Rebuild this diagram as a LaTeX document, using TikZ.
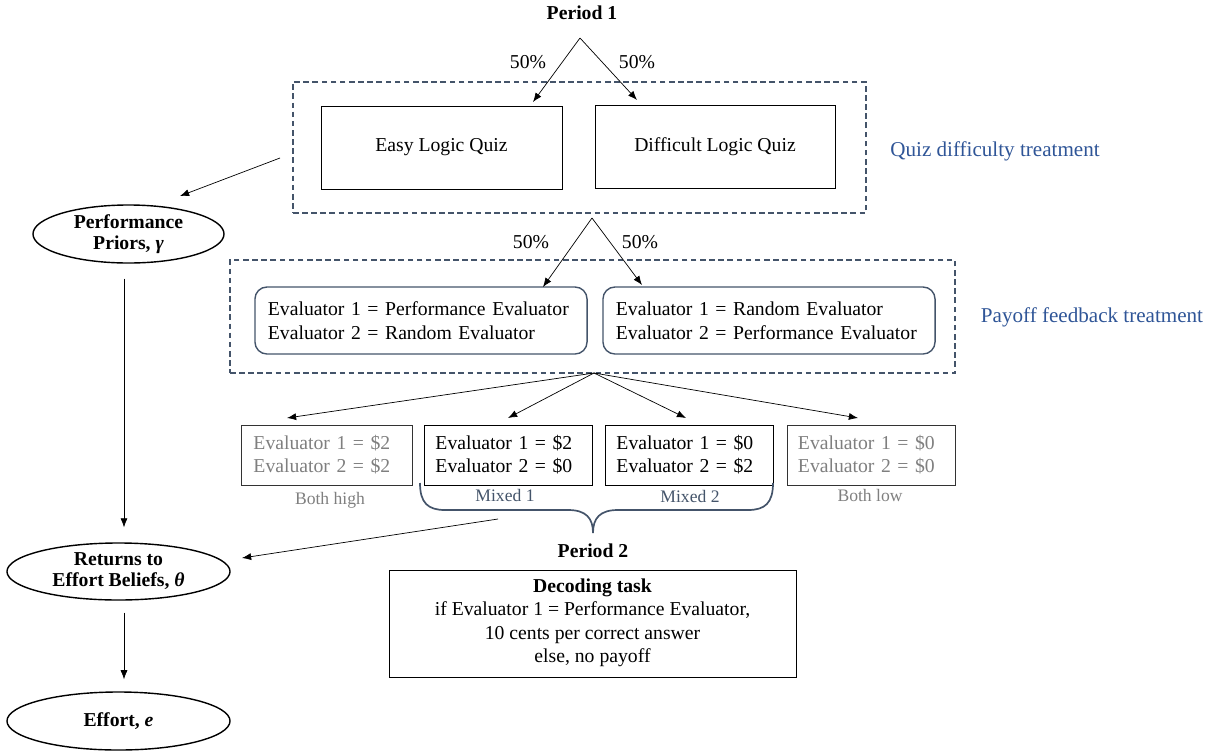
\documentclass[tikz,border=0pt]{standalone}
\usepackage{fontspec}
\setmainfont{Liberation Serif}
\usetikzlibrary{shapes.geometric,positioning,arrows.meta}
\definecolor{navy}{RGB}{68,84,106}
\definecolor{treatblue}{RGB}{47,85,151}
\definecolor{greytext}{RGB}{127,127,127}
\tikzset{
	arr/.style={line width=0.5pt,-{Latex[length=6.5pt,width=5pt]}},
	dashbox/.style={draw=navy,line width=0.9pt,dash pattern=on 4pt off 2.5pt},
	quizbox/.style={draw,line width=0.6pt,minimum width=6.025cm,minimum height=2.075cm,font=\fontsize{14}{16.5}\selectfont},
	evalbox/.style={draw=navy,line width=1pt,rounded corners=0.3cm,minimum width=8.3cm,minimum height=1.675cm,text width=7.65cm,inner xsep=0.325cm,align=left,font=\fontsize{14}{17}\selectfont},
	paybox/.style={draw,line width=0.6pt,minimum width=4.2cm,minimum height=1.5cm,text width=3.65cm,inner xsep=0.275cm,align=left,font=\fontsize{14}{16.5}\selectfont},
	greybox/.style={paybox,draw=black!80,text=greytext},
	sublabel/.style={font=\fontsize{12.5}{14}\selectfont},
	treatlabel/.style={text=treatblue,font=\fontsize{15}{17}\selectfont},
	pct/.style={font=\fontsize{14}{16}\selectfont},
	periodlabel/.style={font=\fontsize{14}{16}\selectfont\bfseries},
	belief/.style={ellipse,draw,line width=1pt,align=center,inner sep=0pt,font=\fontsize{14}{15}\selectfont\bfseries}
}
\begin{document}
\begin{tikzpicture}[x=0.025cm,y=-0.025cm]
	\useasboundingbox (0,0) rectangle (1215,751);

	%%Period 1 und Quiz
	\node[periodlabel] (period1) at (582,13) {Period 1};
	\coordinate (fork1) at (580,38);
	\node[dashbox,minimum width=14.325cm,minimum height=3.275cm] (quizarea) at (579.5,147.5) {};
	\node[quizbox] (easy) at (441.5,147.5) {\raisebox{-3pt}{Easy Logic Quiz}};
	\node[quizbox,minimum width=6cm] (difficult) at (715,146.5) {Difficult Logic Quiz};
	\node[treatlabel] (quiztreat) at (995,151) {Quiz difficulty treatment};
	\node[pct] (pctA) at (528,62) {50\%};
	\node[pct] (pctB) at (637,62) {50\%};
	\coordinate (easytip) at (533,102);
	\coordinate (difftip) at (637,100);
	\draw[arr] (fork1) -- (easytip);
	\draw[arr] (fork1) -- (difftip);

	%%Evaluatoren
	\coordinate (fork2) at (592,218);
	\node[dashbox,minimum width=18.125cm,minimum height=2.825cm] (payarea) at (592.5,316.5) {};
	\node[evalbox] (perfeval) at (421,320.5) {Evaluator 1 = Performance Evaluator\\Evaluator 2 = Random Evaluator};
	\node[evalbox] (randeval) at (769,320.5) {Evaluator 1 = Random Evaluator\\Evaluator 2 = Performance Evaluator};
	\node[treatlabel] (paytreat) at (1092,317) {Payoff feedback treatment};
	\node[pct] (pctC) at (531,242) {50\%};
	\node[pct] (pctD) at (640,242) {50\%};
	\coordinate (perftip) at (543,287);
	\coordinate (randtip) at (642,285);
	\draw[arr] (fork2) -- (perftip);
	\draw[arr] (fork2) -- (randtip);

	%%Auszahlungen
	\coordinate (fork3) at (594,373);
	\node[greybox,minimum width=4.275cm] (bothhigh) at (326.5,455) {Evaluator 1 = \$2\\Evaluator 2 = \$2};
	\node[paybox,minimum width=4.175cm] (mixedA) at (508.5,455) {Evaluator 1 = \$2\\Evaluator 2 = \$0};
	\node[paybox,minimum width=4.175cm] (mixedB) at (689.5,455) {Evaluator 1 = \$0\\Evaluator 2 = \$2};
	\node[greybox] (bothlow) at (871,455) {Evaluator 1 = \$0\\Evaluator 2 = \$0};
	\node[sublabel,text=greytext] (highlab) at (330,500) {Both high};
	\node[sublabel,text=navy] (mixAlab) at (505,495) {Mixed 1};
	\node[sublabel,text=navy] (mixBlab) at (690,496) {Mixed 2};
	\node[sublabel,text=greytext] (lowlab) at (870,495) {Both low};
	\foreach \tip in {(287,418),(508,418),(686,418),(858,418)}
		\draw[arr] (fork3) -- \tip;

	%%Klammer
	\coordinate (bracetip) at (593,533);
	\draw[navy,line width=1.2pt] (420,483) .. controls (420,503) and (428,510) .. (445,510) -- (568,510)
		.. controls (586,510) and (593,518) .. (bracetip)
		.. controls (593,518) and (600,510) .. (618,510) -- (748,510)
		.. controls (765,510) and (773,503) .. (773,483);

	%%Period 2
	\node[periodlabel] (period2) at (593,551) {Period 2};
	\node[draw,line width=0.6pt,minimum width=10.175cm,minimum height=2.675cm,align=center,font=\fontsize{14}{16.5}\selectfont] (decoding) at (592.5,623.5)
		{\textbf{Decoding task}\\if Evaluator 1 = Performance Evaluator,\\10 cents per correct answer\\else, no payoff\rule[-4pt]{0pt}{1pt}};

	%%Beliefs
	\node[belief,minimum width=4.775cm,minimum height=1.45cm] (priors) at (128.5,234) {Performance\\Priors, \textit{γ}};
	\node[belief,minimum width=5.575cm,minimum height=1.425cm] (returns) at (118.5,571.5) {Returns to\\Effort Beliefs, \textit{θ}};
	\node[belief,minimum width=5.575cm,minimum height=1.45cm] (effort) at (118.5,721) {Effort, \textit{e}};
	\coordinate (stem) at (124,0);
	\coordinate (quizout) at (280,158);
	\coordinate (priorsin) at (180,196);
	\coordinate (mixout) at (498,519);
	\coordinate (returnsin) at (242,558);
	\draw[arr] (quizout) -- (priorsin);
	\draw[arr] (mixout) -- (returnsin);
	\draw[arr,shorten <=10.6pt,shorten >=10.6pt] (priors.south -| stem) -- (returns.north -| stem);
	\draw[arr,shorten <=8.5pt,shorten >=8.5pt] (returns.south -| stem) -- (effort.north -| stem);
\end{tikzpicture}
\end{document}
